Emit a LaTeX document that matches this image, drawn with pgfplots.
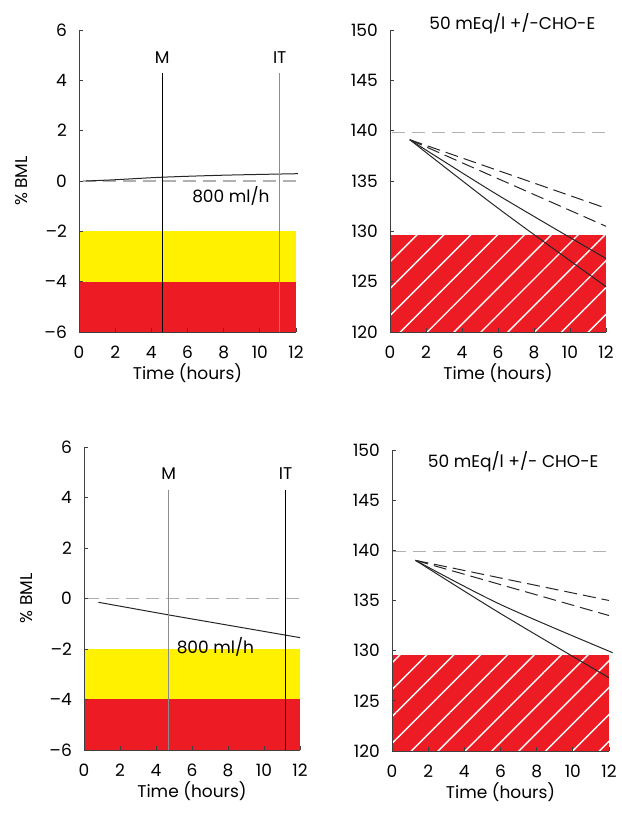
\documentclass[border=0pt]{standalone}
\usepackage{fontspec}
\setmainfont{Poppins}
\usepackage{pgfplots}
\pgfplotsset{compat=1.18}
\usetikzlibrary{patterns.meta}
\definecolor{myred}{HTML}{ED1C24}
\definecolor{myyellow}{HTML}{FFF100}
\definecolor{dgray}{HTML}{B0B0B0}
\definecolor{vgray}{HTML}{8C8C8C}
\newcommand{\fs}{\fontsize{17}{20}\selectfont}
\pgfplotsset{
 panel/.style={
  scale only axis, clip=false, axis on top,
  axis x line=bottom, axis y line=left,
  axis line style={-, line width=0.9pt, black!75},
  xmin=0, xmax=12,
  xtick={0,2,...,12}, xticklabels={0,2,4,6,8,10,12},
  tick align=inside, major tick length=4pt,
  tick style={black!75, line width=0.8pt},
  tick label style={font=\fs, inner sep=0pt},
  xticklabel style={anchor=center, yshift=-20pt},
  yticklabel style={anchor=east, xshift=-12pt},
  xlabel={Time (hours)},
  every axis x label/.style={at={([yshift=-41pt]axis description cs:0.5,0)}, anchor=center, font=\fs},
  every axis y label/.style={at={([xshift=-57pt]axis description cs:0,0.5)}, anchor=center, rotate=90, font=\fs},
 },
 bmlpanel/.style={panel, ymin=-6, ymax=6, ytick={-6,-4,...,6},
  yticklabels={–6,–4,–2,0,2,4,6}, ylabel={\% BML}},
 napanel/.style={panel, ymin=120, ymax=150, ytick={120,125,...,150},
  yticklabels={120,125,130,135,140,145,150}},
 hatch/.style={fill=myred, draw=none, postaction={pattern={Lines[angle=45,distance=19pt,line width=1.4pt]}, pattern color=white}},
 gdash/.style={dgray, line width=1.6pt, dash pattern=on 13pt off 7pt},
 bdash/.style={black!85, line width=1pt, dash pattern=on 13pt off 6pt},
 bsolid/.style={black!85, line width=1pt},
}
\begin{document}
\begin{tikzpicture}
\useasboundingbox (0,0) rectangle (621pt,813pt);
% ---- top left
\begin{axis}[bmlpanel, at={(79pt,481pt)}, anchor=south west, width=217pt, height=302pt]
\addplot[fill=myyellow, draw=none] coordinates {(0,-4)(12,-4)(12,-2)(0,-2)} -- cycle;
\addplot[fill=myred, draw=none] coordinates {(0,-6)(12,-6)(12,-4)(0,-4)} -- cycle;
\addplot[gdash] coordinates {(0.2,0)(12,0)};
\addplot[bsolid, smooth] coordinates {(0.4,0)(2,0.05)(4.6,0.15)(8,0.23)(12.1,0.29)};
\addplot[black, line width=1.1pt] coordinates {(4.6,-6)(4.6,4.3)};
\addplot[vgray, line width=1.5pt] coordinates {(11.1,-6)(11.1,4.3)};
\node[font=\fs] at (axis cs:4.6,4.9) {M};
\node[font=\fs] at (axis cs:11.1,4.9) {IT};
\node[font=\fs] at (axis cs:8.4,-0.6) {800 ml/h};
\end{axis}
% ---- top right
\begin{axis}[napanel, at={(390pt,481pt)}, anchor=south west, width=216pt, height=302pt]
\addplot[hatch] coordinates {(0,120)(12,120)(12,129.6)(0,129.6)} -- cycle;
\addplot[gdash] coordinates {(0.1,139.8)(12,139.8)};
\addplot[bdash] coordinates {(1.1,139.1)(12,132.3)};
\addplot[bdash] coordinates {(1.1,139.1)(12,130.5)};
\addplot[bsolid, smooth] coordinates {(1.1,139.1)(6,133.6)(12,127.3)};
\addplot[bsolid, smooth] coordinates {(1.1,139.1)(6,132.3)(12,124.5)};
\node[font=\fs] at (axis cs:6.8,150.6) {50 mEq/l +/-CHO-E};
\end{axis}
% ---- bottom left
\begin{axis}[bmlpanel, at={(84pt,63pt)}, anchor=south west, width=216pt, height=303pt]
\addplot[fill=myyellow, draw=none] coordinates {(0,-4)(12,-4)(12,-2)(0,-2)} -- cycle;
\addplot[fill=myred, draw=none] coordinates {(0,-6)(12,-6)(12,-4)(0,-4)} -- cycle;
\addplot[gdash] coordinates {(0.1,0)(12.1,0)};
\addplot[bsolid] coordinates {(0.8,-0.15)(4.7,-0.65)(12,-1.55)};
\addplot[vgray, line width=1.5pt] coordinates {(4.7,-6)(4.7,4.3)};
\addplot[black, line width=1.1pt] coordinates {(11.2,-6)(11.2,4.3)};
\node[font=\fs] at (axis cs:4.7,4.95) {M};
\node[font=\fs] at (axis cs:11.2,4.95) {IT};
\node[font=\fs] at (axis cs:7.3,-1.9) {800 ml/h};
\end{axis}
% ---- bottom right
\begin{axis}[napanel, at={(392pt,62pt)}, anchor=south west, width=217pt, height=301pt]
\addplot[hatch] coordinates {(0,120)(12,120)(12,129.6)(0,129.6)} -- cycle;
\addplot[gdash] coordinates {(0.05,139.9)(12,139.9)};
\addplot[bdash] coordinates {(1.3,139.0)(12,135.0)};
\addplot[bdash] coordinates {(1.3,139.0)(12,133.5)};
\addplot[bsolid, smooth] coordinates {(1.3,139.0)(6,134.6)(12.2,129.8)};
\addplot[bsolid, smooth] coordinates {(1.3,139.0)(6,133.7)(12,127.3)};
\node[font=\fs] at (axis cs:6.7,148.8) {50 mEq/l +/- CHO-E};
\end{axis}
\end{tikzpicture}
\end{document}
